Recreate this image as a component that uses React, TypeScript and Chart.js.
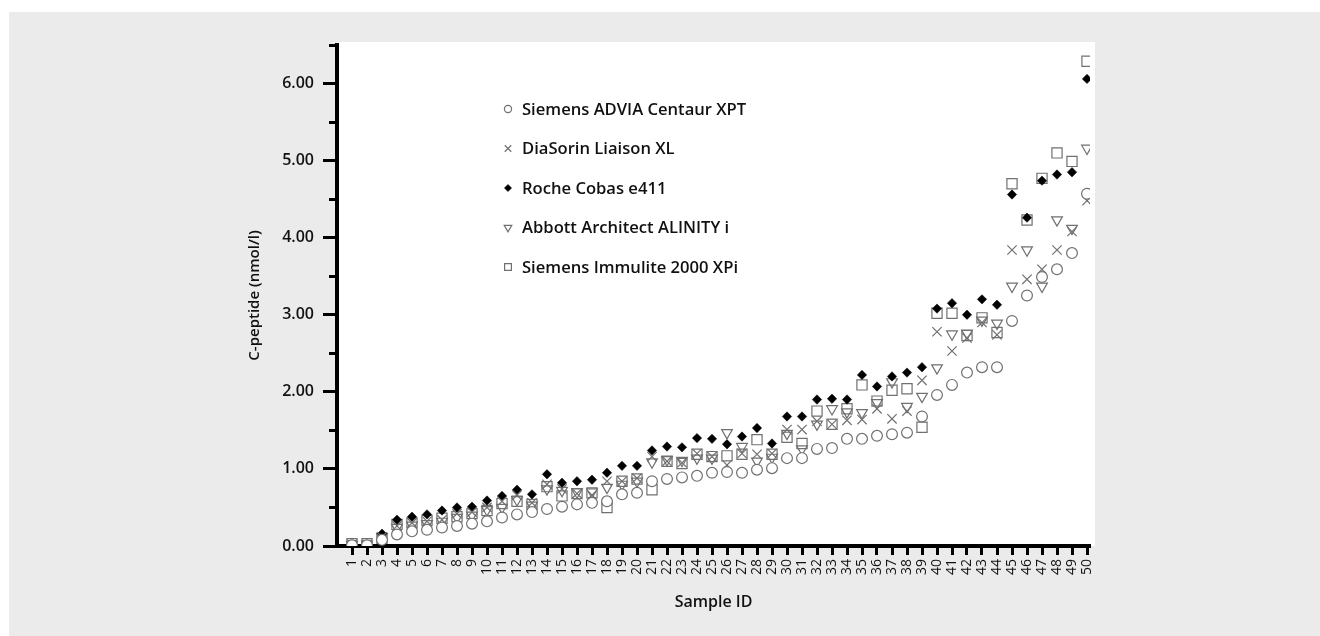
import React, { useEffect, useRef } from 'react';
import { Chart, registerables } from 'chart.js';
import { drawPoint } from 'chart.js/helpers';

Chart.register(...registerables);

// Sample identifiers (x axis)
const sampleIds = [
  1, 2, 3, 4, 5, 6, 7, 8, 9, 10,
  11, 12, 13, 14, 15, 16, 17, 18, 19, 20,
  21, 22, 23, 24, 25, 26, 27, 28, 29, 30,
  31, 32, 33, 34, 35, 36, 37, 38, 39, 40,
  41, 42, 43, 44, 45, 46, 47, 48, 49, 50,
];

// C-peptide results per analyser (nmol/l)
const siemensAdvia = [
  0.01, 0.01, 0.08, 0.15, 0.19, 0.21, 0.24, 0.26, 0.29, 0.32,
  0.37, 0.41, 0.44, 0.48, 0.51, 0.54, 0.56, 0.58, 0.67, 0.69,
  0.84, 0.87, 0.89, 0.91, 0.95, 0.96, 0.95, 0.99, 1.01, 1.14,
  1.14, 1.26, 1.27, 1.39, 1.39, 1.43, 1.45, 1.47, 1.68, 1.96,
  2.09, 2.25, 2.32, 2.32, 2.92, 3.25, 3.49, 3.59, 3.80, 4.57,
];
const diaSorin = [
  0.02, 0.02, 0.12, 0.26, 0.30, 0.32, 0.34, 0.42, 0.44, 0.50,
  0.58, 0.66, 0.56, 0.80, 0.74, 0.68, 0.66, 0.84, 0.84, 0.88,
  1.16, 1.10, 1.08, 1.20, 1.16, 1.05, 1.20, 1.19, 1.20, 1.51,
  1.51, 1.62, 1.58, 1.63, 1.64, 1.78, 1.65, 1.75, 2.15, 2.78,
  2.53, 2.70, 2.90, 2.74, 3.84, 3.46, 3.59, 3.84, 4.08, 4.48,
];
const rocheCobas = [
  0.02, 0.02, 0.16, 0.34, 0.38, 0.41, 0.46, 0.50, 0.51, 0.59,
  0.65, 0.73, 0.67, 0.93, 0.82, 0.84, 0.86, 0.95, 1.04, 1.04,
  1.24, 1.29, 1.28, 1.40, 1.39, 1.32, 1.42, 1.53, 1.33, 1.68,
  1.68, 1.90, 1.91, 1.90, 2.22, 2.07, 2.20, 2.25, 2.32, 3.08,
  3.15, 3.00, 3.20, 3.13, 4.56, 4.26, 4.74, 4.82, 4.85, 6.06,
];
const abbottAlinity = [
  0.02, 0.02, 0.12, 0.24, 0.27, 0.29, 0.32, 0.37, 0.40, 0.47,
  0.50, 0.60, 0.53, 0.74, 0.72, 0.70, 0.70, 0.76, 0.80, 0.84,
  1.09, 1.12, 1.11, 1.14, 1.14, 1.47, 1.29, 1.10, 1.15, 1.46,
  1.26, 1.58, 1.78, 1.74, 1.73, 1.86, 2.13, 1.81, 1.94, 2.31,
  2.75, 2.76, 2.93, 2.89, 3.37, 3.84, 3.37, 4.23, 4.12, 5.16,
];
const siemensImmulite = [
  0.03, 0.03, 0.10, 0.28, 0.30, 0.33, 0.36, 0.38, 0.42, 0.46,
  0.55, 0.58, 0.54, 0.77, 0.65, 0.68, 0.69, 0.50, 0.84, 0.87,
  0.73, 1.10, 1.07, 1.19, 1.16, 1.17, 1.19, 1.38, 1.19, 1.41,
  1.33, 1.75, 1.58, 1.78, 2.09, 1.88, 2.02, 2.04, 1.54, 3.02,
  3.02, 2.73, 2.96, 2.77, 4.70, 4.23, 4.77, 5.10, 4.99, 6.29,
];

const yTickValues = [0, 1, 2, 3, 4, 5, 6];
const yMinorTickValues = [0.5, 1.5, 2.5, 3.5, 4.5, 5.5, 6.5];

const FONT = "'Open Sans', 'Noto Sans', sans-serif";
const MARK_GREY = '#707070';
const TEXT = '#111111';

type SeriesDef = {
  label: string;
  values: number[];
  pointStyle: string;
  radius: number;
  legendRadius: number;
  rotation: number;
  border: string;
  fill: string;
  borderWidth: number;
};

const series: SeriesDef[] = [
  { label: 'Siemens ADVIA Centaur XPT', values: siemensAdvia, pointStyle: 'circle', radius: 5.4, legendRadius: 3.6, rotation: 0, border: MARK_GREY, fill: '#ffffff', borderWidth: 1.2 },
  { label: 'DiaSorin Liaison XL', values: diaSorin, pointStyle: 'crossRot', radius: 6.6, legendRadius: 4.6, rotation: 0, border: MARK_GREY, fill: 'rgba(0,0,0,0)', borderWidth: 1.2 },
  { label: 'Roche Cobas e411', values: rocheCobas, pointStyle: 'rectRot', radius: 4.7, legendRadius: 3.6, rotation: 0, border: '#000000', fill: '#000000', borderWidth: 0.5 },
  { label: 'Abbott Architect ALINITY i', values: abbottAlinity, pointStyle: 'triangle', radius: 6.2, legendRadius: 4.4, rotation: 180, border: MARK_GREY, fill: 'rgba(0,0,0,0)', borderWidth: 1.2 },
  { label: 'Siemens Immulite 2000 XPi', values: siemensImmulite, pointStyle: 'rect', radius: 7.2, legendRadius: 4.8, rotation: 0, border: MARK_GREY, fill: 'rgba(0,0,0,0)', borderWidth: 1.2 },
];

// White plotting panel behind the axes
const panelPlugin = {
  id: 'panel',
  beforeDraw(chart: any) {
    const { ctx, chartArea } = chart;
    ctx.save();
    ctx.fillStyle = '#ffffff';
    ctx.fillRect(chartArea.left, chartArea.top - 3, chartArea.right - chartArea.left + 5, chartArea.bottom - chartArea.top + 3);
    ctx.restore();
  },
};

// Short unlabelled ticks between the integer steps of the y axis
const minorTickPlugin = {
  id: 'minorTicks',
  beforeDatasetsDraw(chart: any) {
    const { ctx, scales } = chart;
    const y = scales.y;
    ctx.save();
    ctx.strokeStyle = '#000000';
    ctx.lineWidth = 3;
    yMinorTickValues.forEach((v) => {
      const py = Math.round(y.getPixelForValue(v)) + 0.5;
      ctx.beginPath();
      ctx.moveTo(y.right - 8, py);
      ctx.lineTo(y.right, py);
      ctx.stroke();
    });
    ctx.restore();
  },
};

// Legend inside the plotting panel
const legendPlugin = {
  id: 'insideLegend',
  afterDraw(chart: any) {
    const { ctx, chartArea } = chart;
    const markerX = chartArea.left + 171;
    const textX = chartArea.left + 185;
    const firstRow = chartArea.top + 64;
    const rowGap = 39.5;
    ctx.save();
    series.forEach((s, i) => {
      const yPos = firstRow + i * rowGap;
      ctx.strokeStyle = s.border;
      ctx.fillStyle = s.fill;
      ctx.lineWidth = s.borderWidth;
      drawPoint(ctx, { pointStyle: s.pointStyle as any, rotation: s.rotation, radius: s.legendRadius, borderWidth: s.borderWidth }, markerX, yPos);
      ctx.fillStyle = TEXT;
      ctx.font = `600 16.6px ${FONT}`;
      ctx.textAlign = 'left';
      ctx.textBaseline = 'middle';
      ctx.fillText(s.label, textX, yPos + 1);
    });
    ctx.restore();
  },
};

export default function App() {
  const canvasRef = useRef<HTMLCanvasElement | null>(null);

  useEffect(() => {
    if (!canvasRef.current) return;
    const chart = new Chart(canvasRef.current, {
      type: 'scatter',
      data: {
        datasets: series.map((s) => ({
          label: s.label,
          data: sampleIds.map((id, i) => ({ x: id, y: s.values[i] })),
          pointStyle: s.pointStyle as any,
          pointRadius: s.radius,
          pointHoverRadius: s.radius,
          pointRotation: s.rotation,
          pointBorderColor: s.border,
          pointBackgroundColor: s.fill,
          pointBorderWidth: s.borderWidth,
          showLine: false,
        })),
      },
      options: {
        animation: false,
        responsive: false,
        devicePixelRatio: 1,
        events: [],
        layout: { padding: { left: 237, right: 230, top: 33, bottom: 24 } },
        plugins: {
          legend: { display: false },
          tooltip: { enabled: false },
        },
        scales: {
          x: {
            type: 'linear',
            min: 0,
            max: 50.2,
            afterBuildTicks: (scale: any) => {
              scale.ticks = sampleIds.map((v) => ({ value: v }));
            },
            afterFit: (scale: any) => {
              scale.height = 66;
            },
            grid: { drawOnChartArea: false, drawTicks: true, tickLength: 9, tickWidth: 3, tickColor: '#000000' },
            border: { display: true, width: 4, color: '#000000' },
            ticks: {
              autoSkip: false,
              minRotation: 90,
              maxRotation: 90,
              padding: 4,
              color: TEXT,
              font: { family: FONT, size: 14 },
              callback: (v: any) => String(v),
            },
            title: {
              display: true,
              text: 'Sample ID',
              color: TEXT,
              padding: 0,
              font: { family: FONT, size: 16, weight: '600' },
            },
          },
          y: {
            type: 'linear',
            min: 0,
            max: 6.5,
            afterBuildTicks: (scale: any) => {
              scale.ticks = yTickValues.map((v) => ({ value: v }));
            },
            afterFit: (scale: any) => {
              scale.width = 91;
            },
            grid: { drawOnChartArea: false, drawTicks: true, tickLength: 14, tickWidth: 3, tickColor: '#000000' },
            border: { display: true, width: 4, color: '#000000' },
            ticks: {
              padding: 9,
              color: TEXT,
              font: { family: FONT, size: 16, weight: '600' },
              callback: (v: any) => Number(v).toFixed(2),
            },
            title: {
              display: true,
              text: 'C-peptide (nmol/l)',
              color: TEXT,
              padding: 0,
              font: { family: FONT, size: 15, weight: '600' },
            },
          },
        },
      },
      plugins: [panelPlugin, minorTickPlugin, legendPlugin],
    });
    return () => chart.destroy();
  }, []);

  return (
    <div style={{ position: 'fixed', left: 9, top: 12, width: 1311, height: 624, background: '#ebebeb' }}>
      <canvas ref={canvasRef} width={1311} height={624} style={{ display: 'block' }} />
    </div>
  );
}
